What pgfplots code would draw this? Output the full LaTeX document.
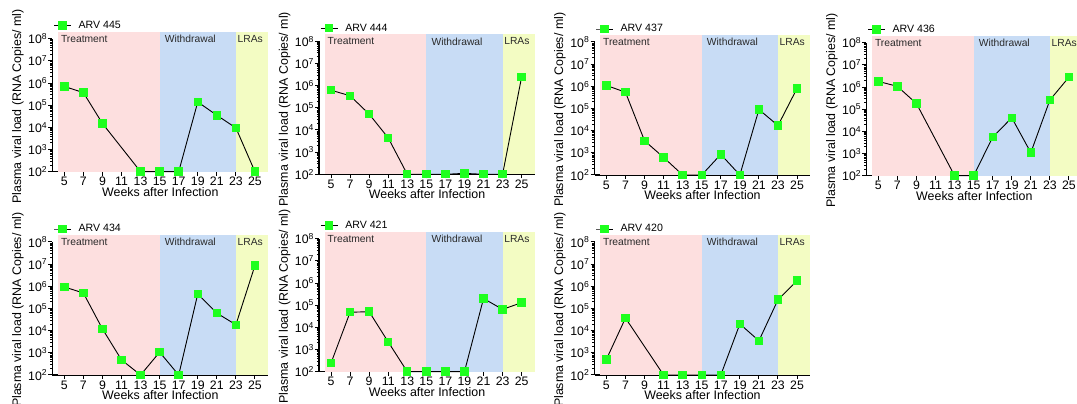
\documentclass[border=0pt]{standalone}
\usepackage{fontspec}
\setmainfont{Liberation Sans}
\usepackage{pgfplots}
\pgfplotsset{compat=1.18}

\definecolor{tpink}{HTML}{FDDFDF}
\definecolor{wblue}{HTML}{C8DCF5}
\definecolor{lyel}{HTML}{F3FCC3}
\definecolor{mgreen}{HTML}{1EFF1E}
\definecolor{rtext}{HTML}{2A2A2A}

\newcommand{\tickfont}{\fontsize{12.3}{14}\selectfont}
\newcommand{\legfont}{\fontsize{10.6}{12}\selectfont}

\pgfplotsset{
  every axis/.append style={
    scale only axis, width=215.9pt, height=133pt,
    xmin=3.75, xmax=26.4, ymode=log, ymin=100, ymax=1e8,
    axis x line=bottom, axis y line=left,
    axis line style={-, line width=1.4pt, black},
    clip=false,
    xtick={5,7,9,11,13,15,17,19,21,23,25},
    xticklabels={5,7,9,11,13,15,17,19,21,23,25},
    ytick={1e2,1e3,1e4,1e5,1e6,1e7,1e8},
    yticklabels={10\textsuperscript{2},10\textsuperscript{3},10\textsuperscript{4},10\textsuperscript{5},10\textsuperscript{6},10\textsuperscript{7},10\textsuperscript{8}},
    minor ytick={2e2,3e2,4e2,5e2,6e2,7e2,8e2,9e2,2e3,3e3,4e3,5e3,6e3,7e3,8e3,9e3,2e4,3e4,4e4,5e4,6e4,7e4,8e4,9e4,2e5,3e5,4e5,5e5,6e5,7e5,8e5,9e5,2e6,3e6,4e6,5e6,6e6,7e6,8e6,9e6,2e7,3e7,4e7,5e7,6e7,7e7,8e7,9e7},
    tick align=outside,
    major tick length=4pt, minor tick length=2.2pt,
    major tick style={line width=1pt, black},
    minor tick style={line width=0.8pt, black},
    yticklabel style={font=\tickfont, inner sep=1pt},
    xticklabel style={font=\tickfont, inner sep=1.5pt},
    xlabel={Weeks after Infection},
    ylabel={Plasma viral load (RNA Copies/ ml)},
    label style={font=\fontsize{12.4}{14}\selectfont},
    xlabel style={at={(axis description cs:0.5,0)}, anchor=north, yshift=-15.5pt, inner sep=0pt},
    ylabel style={at={(axis description cs:-0.16,0.49)}, anchor=center, inner sep=0pt},
    legend style={draw=none, fill=none, inner sep=0pt, at={(axis description cs:0,1)}, anchor=west, xshift=1pt, yshift=13pt, font=\legfont, /tikz/every odd column/.append style={column sep=5pt}},
  },
  vldat/.style={black, line width=0.9pt, mark=square*, mark size=3.7pt, mark options={fill=mgreen, draw=mgreen, line width=0pt}},
}

\newcommand{\regions}{%
  \addplot[draw=none, forget plot, fill=tpink] coordinates {(4.37,100) (15,100) (15,2.05e8) (4.37,2.05e8)};
  \addplot[draw=none, forget plot, fill=wblue] coordinates {(15,100) (23,100) (23,2.05e8) (15,2.05e8)};
  \addplot[draw=none, forget plot, fill=lyel] coordinates {(23,100) (26.4,100) (26.4,2.05e8) (23,2.05e8)};
  \node[anchor=north west, inner sep=0pt, xshift=2.5pt, yshift=-3pt, font=\fontsize{10.3}{12}\selectfont, text=rtext] at (axis cs:4.37,2.05e8) {Treatment};
  \node[anchor=north west, inner sep=0pt, xshift=5pt, yshift=-3pt, font=\fontsize{10.3}{12}\selectfont, text=rtext] at (axis cs:15,2.05e8) {Withdrawal};
  \node[anchor=north west, inner sep=0pt, xshift=1.5pt, yshift=-3pt, font=\fontsize{10.3}{12}\selectfont, text=rtext] at (axis cs:23,2.05e8) {LRAs};
}

\begin{document}
\begin{tikzpicture}[x=1pt,y=1pt]
\useasboundingbox (0,0) rectangle (1077,404);

% Row 1
\begin{axis}[at={(52.4pt,232.3pt)}, anchor=south west]
\regions
\addplot[vldat] coordinates {(5,7e5)(7,3.7e5)(9,1.5e4)(13,100)(15,100)(17,100)(19,1.4e5)(21,3.5e4)(23,9.5e3)(25,100)};
\addlegendentry{ARV 445}
\end{axis}

\begin{axis}[at={(319.1pt,229.7pt)}, anchor=south west]
\regions
\addplot[vldat] coordinates {(5,6.2e5)(7,3.5e5)(9,5.2e4)(11,4.4e3)(13,100)(15,100)(17,100)(19,110)(21,100)(23,100)(25,2.5e6)};
\addlegendentry{ARV 444}
\end{axis}

\begin{axis}[at={(594.5pt,229pt)}, anchor=south west]
\regions
\addplot[vldat] coordinates {(5,1.1e6)(7,5.4e5)(9,3.5e3)(11,620)(13,100)(15,100)(17,850)(19,100)(21,9e4)(23,1.7e4)(25,8.1e5)};
\addlegendentry{ARV 437}
\end{axis}

\begin{axis}[at={(866.4pt,228.3pt)}, anchor=south west]
\regions
\addplot[vldat] coordinates {(5,1.8e6)(7,1.07e6)(9,1.8e5)(13,100)(15,100)(17,5.5e3)(19,4.1e4)(21,1.1e3)(23,2.6e5)(25,2.8e6)};
\addlegendentry{ARV 436}
\end{axis}

% Row 2
\begin{axis}[at={(52.4pt,29pt)}, anchor=south west]
\regions
\addplot[vldat] coordinates {(5,9.4e5)(7,5e5)(9,1.2e4)(11,480)(13,100)(15,1.07e3)(17,100)(19,4.5e5)(21,6.2e4)(23,1.85e4)(25,8.7e6)};
\addlegendentry{ARV 434}
\end{axis}

\begin{axis}[at={(319.1pt,32.3pt)}, anchor=south west]
\regions
\addplot[vldat] coordinates {(5,245)(7,4.8e4)(9,5.1e4)(11,2.2e3)(13,100)(15,100)(17,100)(19,100)(21,2e5)(23,6.5e4)(25,1.3e5)};
\addlegendentry{ARV 421}
\end{axis}

\begin{axis}[at={(594.5pt,29pt)}, anchor=south west]
\regions
\addplot[vldat] coordinates {(5,510)(7,3.7e4)(11,100)(13,100)(15,100)(17,100)(19,2e4)(21,3.5e3)(23,2.5e5)(25,1.8e6)};
\addlegendentry{ARV 420}
\end{axis}
\end{tikzpicture}
\end{document}
